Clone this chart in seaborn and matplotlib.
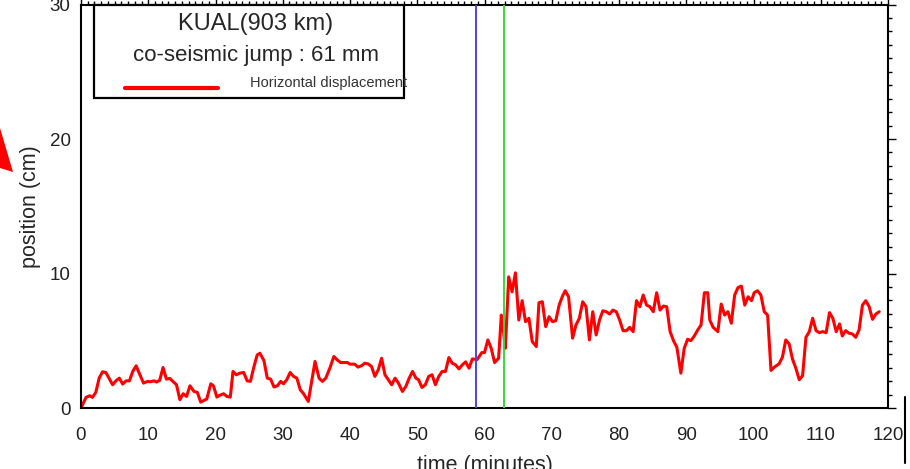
import matplotlib
matplotlib.use("Agg")
import matplotlib.pyplot as plt
from matplotlib.ticker import MultipleLocator
from matplotlib.patches import Rectangle, Polygon
from matplotlib.lines import Line2D
import seaborn as sns
import pandas as pd

# GPS station time series: horizontal position (cm) vs time (minutes)
time_min = [
    0.0, 0.75, 1.3, 1.7, 2.2, 2.7, 3.2, 3.7, 4.7, 5.2, 5.7, 6.2, 6.7, 7.2, 7.7, 8.2,
    8.7, 9.3, 9.9, 10.3, 10.9, 11.2, 11.7, 12.2, 12.7, 13.2, 14.2, 14.7, 15.2, 15.7,
    16.2, 16.8, 17.3, 17.8, 18.7, 19.3, 19.7, 20.2, 20.6, 21.2, 21.7, 22.2, 22.6,
    23.1, 23.6, 24.2, 24.7, 25.2, 25.7, 26.2, 26.6, 27.2, 27.7, 28.2, 28.7, 29.2,
    29.7, 30.1, 30.6, 31.1, 31.6, 32.1, 32.6, 33.1, 33.8, 34.8, 35.4, 35.9, 36.4,
    37.0, 37.6, 38.1, 38.6, 39.6, 40.0, 40.7, 41.2, 41.7, 42.2, 42.7, 43.2, 43.7,
    44.2, 44.7, 45.2, 45.7, 46.2, 46.7, 47.2, 47.8, 48.3, 48.8, 49.3, 49.8, 50.2,
    50.7, 51.2, 51.7, 52.2, 52.7, 53.2, 53.7, 54.2, 54.7, 55.2, 55.7, 56.2, 56.7,
    57.2, 57.7, 58.2, 58.9, 59.6, 60.0, 60.5, 61.0, 61.5, 62.1, 62.5, 62.8, 63.1,
    63.6, 64.1, 64.6, 65.1, 65.6, 66.1, 66.6, 67.1, 67.7, 68.1, 68.6, 69.1, 69.6,
    70.1, 70.6, 71.1, 71.6, 72.0, 72.5, 73.1, 73.6, 74.1, 74.6, 75.1, 75.6, 76.1,
    76.6, 77.1, 77.6, 78.1, 78.6, 79.1, 79.6, 80.1, 80.6, 81.1, 81.6, 82.1, 82.6,
    83.1, 83.6, 84.1, 84.6, 85.1, 85.6, 86.1, 86.6, 87.1, 87.6, 88.1, 88.6, 89.2,
    89.7, 90.2, 90.7, 91.2, 91.7, 92.2, 92.7, 93.2, 93.5, 94.0, 94.7, 95.2, 95.7,
    96.2, 96.7, 97.2, 97.7, 98.2, 98.7, 99.2, 99.7, 100.1, 100.6, 101.1, 101.6,
    102.1, 102.6, 103.1, 103.8, 104.3, 104.8, 105.3, 105.8, 106.3, 106.8, 107.3,
    107.8, 108.3, 108.8, 109.3, 109.8, 110.3, 110.8, 111.3, 111.8, 112.3, 112.8,
    113.2, 113.7, 114.2, 114.7, 115.2, 115.7, 116.2, 116.7, 117.2, 117.7, 118.2,
    118.7,
]
position_cm = [
    0.0, 0.79, 0.91, 0.79, 1.16, 2.22, 2.69, 2.64, 1.73, 2.02, 2.22, 1.78, 2.02, 2.02,
    2.72, 3.14, 2.54, 1.85, 1.98, 1.95, 2.02, 1.93, 2.05, 3.01, 2.15, 2.2, 1.73, 0.62,
    1.06, 0.86, 1.65, 1.23, 1.16, 0.44, 0.67, 1.8, 1.65, 0.81, 0.94, 1.06, 0.86, 0.81,
    2.72, 2.47, 2.59, 2.64, 2.02, 1.98, 3.04, 3.95, 4.07, 3.53, 2.22, 2.15, 1.56, 1.65,
    1.98, 1.80, 2.10, 2.64, 2.35, 2.22, 1.36, 1.06, 0.49, 3.46, 2.22, 1.98, 2.22, 2.96,
    3.83, 3.58, 3.38, 3.38, 3.26, 3.26, 3.04, 3.14, 3.33, 3.28, 3.09, 2.35, 2.84, 3.70,
    2.47, 2.10, 1.73, 2.22, 1.85, 1.23, 1.60, 2.22, 2.72, 2.22, 2.10, 1.53, 1.73, 2.35,
    2.47, 1.73, 2.35, 2.72, 2.72, 3.75, 3.33, 3.21, 2.91, 3.21, 3.43, 2.96, 3.65, 3.60,
    4.12, 4.12, 5.06, 4.44, 3.38, 3.70, 6.91, 5.80, 4.44, 9.75, 8.64, 10.05, 6.54, 7.98,
    6.42, 6.67, 4.94, 4.57, 7.83, 7.90, 6.05, 6.79, 6.42, 6.49, 7.65, 8.32, 8.72, 8.27,
    5.19, 6.17, 6.67, 7.90, 7.53, 5.06, 7.16, 5.43, 6.54, 7.23, 7.16, 6.99, 7.28, 7.16,
    6.54, 5.75, 5.75, 6.0, 5.68, 7.98, 7.53, 8.40, 7.65, 7.53, 7.16, 8.57, 7.28, 7.58,
    7.53, 5.68, 5.01, 4.52, 2.59, 4.44, 5.11, 5.01, 5.36, 5.80, 6.17, 8.57, 8.57, 6.54,
    6.0, 5.68, 7.73, 6.91, 7.16, 6.30, 8.40, 8.96, 9.06, 7.65, 8.27, 7.98, 8.57, 8.72,
    8.40, 7.16, 6.91, 2.79, 3.04, 3.28, 3.78, 5.06, 4.77, 3.63, 2.96, 2.10, 2.40, 5.26,
    5.68, 6.67, 5.75, 5.60, 5.68, 5.60, 7.09, 6.67, 5.68, 6.25, 5.36, 5.75, 5.56, 5.51,
    5.26, 5.80, 7.65, 7.98, 7.53, 6.59, 6.99, 7.16,
]
x_ticks = [0, 10, 20, 30, 40, 50, 60, 70, 80, 90, 100, 110, 120]
y_ticks = [0, 10, 20, 30]
event_time = 58.8      # earthquake origin time
arrival_time = 62.9    # arrival of the co-seismic signal

station = "KUAL(903 km)"
jump_text = "co-seismic jump : 61 mm"
legend_label = "Horizontal displacement"

sns.set_style("white")
plt.rcParams["font.family"] = ["Liberation Sans", "DejaVu Sans"]

df = pd.DataFrame({"time": time_min, "position": position_cm})

W, H = 910, 469
fig = plt.figure(figsize=(W / 100, H / 100), dpi=100)
ax = fig.add_axes([81 / W, 1 - 408 / H, 807 / W, 403.5 / H])

sns.lineplot(data=df, x="time", y="position", ax=ax, color="#ff0000",
             linewidth=2.2, estimator=None, sort=False)

ax.axvline(event_time, color="#4848e0", linewidth=1.4, zorder=3)
ax.axvline(arrival_time, color="#3ad83a", linewidth=1.4, zorder=3)

ax.set_xlim(0, 120)
ax.set_ylim(0, 30)
ax.set_xticks(x_ticks)
ax.set_yticks(y_ticks)
ax.xaxis.set_minor_locator(MultipleLocator(1))
ax.yaxis.set_minor_locator(MultipleLocator(1))
ax.tick_params(which="both", direction="out", top=True, right=True,
               labeltop=False, labelright=False, color="black", width=1.0)
ax.tick_params(which="major", length=5.5, labelsize=13.5, pad=8, labelcolor="#222222")
ax.tick_params(axis="y", which="major", pad=2)
ax.tick_params(which="minor", length=3)
for s in ax.spines.values():
    s.set_visible(True)
    s.set_color("black")
    s.set_linewidth(1.5)

ax.set_xlabel("time (minutes)", fontsize=15.5, labelpad=8)
ax.set_ylabel("position (cm)", fontsize=15.5, labelpad=6)

# Legend box drawn in figure pixel space
def fx(px):
    return px / W

def fy(py):
    return 1 - py / H

fig.patches.append(Rectangle((fx(94), fy(98)), fx(404) - fx(94), fy(5) - fy(98),
                             transform=fig.transFigure, fill=True, facecolor="white",
                             edgecolor="black", linewidth=1.6, zorder=5))
fig.text(fx(256), fy(24), station, ha="center", va="center", fontsize=17, zorder=6)
fig.text(fx(256), fy(55), jump_text, ha="center", va="center", fontsize=16, zorder=6)
fig.lines.append(Line2D([fx(125), fx(218)], [fy(88), fy(88)], transform=fig.transFigure,
                        color="#ff0000", linewidth=3, zorder=6))
fig.text(fx(250), fy(83), legend_label, ha="left", va="center", fontsize=10.5,
         color="#333333", zorder=6)

# Direction arrowhead at the left edge
fig.patches.append(Polygon([(fx(0), fy(128)), (fx(13), fy(172)), (fx(0), fy(168))],
                           closed=True, transform=fig.transFigure,
                           facecolor="#ff0000", edgecolor="none", zorder=6))
# Scale bar at the lower right
fig.lines.append(Line2D([fx(905), fx(905)], [fy(397), fy(463)], transform=fig.transFigure,
                        color="black", linewidth=1.5))

fig.savefig("out.png", dpi=100)
